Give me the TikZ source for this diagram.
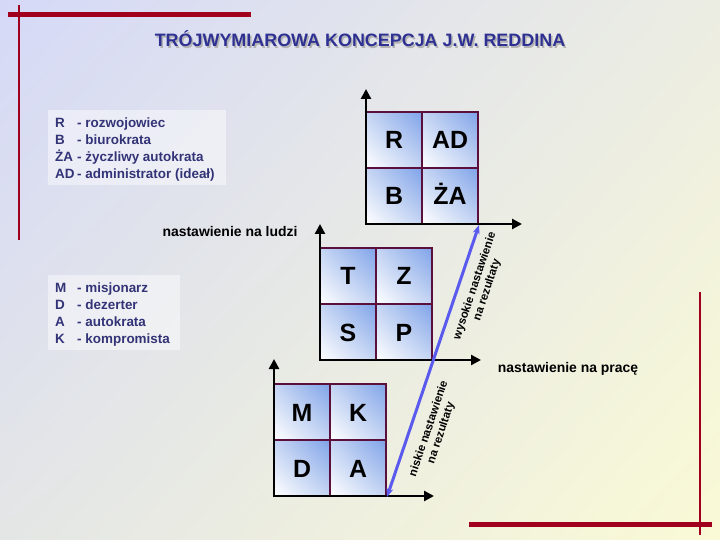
\documentclass[tikz,border=0pt]{standalone}
\usepackage{fontspec}
\setmainfont{Liberation Sans}
\usetikzlibrary{arrows.meta,shadings}
\definecolor{bgTL}{HTML}{D5D9F7}
\definecolor{bgTR}{HTML}{ECEDE2}
\definecolor{bgBL}{HTML}{E4E6E6}
\definecolor{bgBR}{HTML}{FAFAD6}
\definecolor{cellblue}{HTML}{7FA3E8}
\definecolor{cellmid}{HTML}{C4D4F3}
\definecolor{cellborder}{HTML}{5A0F3C}
\definecolor{redline}{HTML}{A0001E}
\definecolor{titleblue}{HTML}{2E3192}
\definecolor{legendblue}{HTML}{333377}
\definecolor{arrowblue}{HTML}{5A5AEE}
\tikzset{
  cell/.style={draw=cellborder, line width=2bp, minimum size=56bp, inner sep=0pt,
    text height=18bp, text depth=0pt, font=\fontsize{25}{25}\selectfont\bfseries,
    shade, lower left=white, upper right=cellblue, upper left=cellmid, lower right=cellmid},
  axis/.style={line width=2.8bp, {Triangle[length=10bp,width=10bp]}-{Triangle[length=10bp,width=10bp]}},
  bluearrow/.style={arrowblue, line width=3bp, -{Stealth[length=9bp,width=7bp]}},
  legend/.style={anchor=base west, inner sep=0pt, text=legendblue, font=\fontsize{13.5}{17}\selectfont\bfseries},
  axislabel/.style={inner sep=0pt, font=\fontsize{14}{17}\selectfont\bfseries},
  rotlabel/.style={rotate=71.5, align=center, inner sep=0pt, font=\fontsize{11.5}{13}\selectfont\bfseries},
  legendbox/.style={fill=white, fill opacity=0.45},
}
\newcommand{\lgitem}[2]{\makebox[22bp][l]{#1}- #2}
\begin{document}
\begin{tikzpicture}[x=1bp,y=-1bp]
\useasboundingbox (0,0) rectangle (720,540);
\shade[upper left=bgTL, upper right=bgTR, lower left=bgBL, lower right=bgBR] (0,0) rectangle (720,540);
% decorations
\fill[redline] (8,12) rectangle (251,17);
\draw[redline, line width=1.2bp] (19,5) -- (19,240);
\fill[redline] (469,522) rectangle (712,527);
\draw[redline, line width=1.2bp] (700,292) -- (700,535);
% title
\node[text=gray!60, anchor=base, inner sep=0pt, font=\fontsize{18}{20}\selectfont\bfseries] (titleshadow) at (361.5,48.5) {TRÓJWYMIAROWA KONCEPCJA J.W. REDDINA};
\node[text=titleblue, anchor=base, inner sep=0pt, font=\fontsize{18}{20}\selectfont\bfseries] (title) at (360,47) {TRÓJWYMIAROWA KONCEPCJA J.W. REDDINA};
% legend boxes
\fill[legendbox] (48,110) rectangle (226,185);
\fill[legendbox] (48,275) rectangle (180,350);
\node[legend] (lr) at (55,128) {\lgitem{R}{rozwojowiec}};
\node[legend] (lb) at (55,145) {\lgitem{B}{biurokrata}};
\node[legend] (lza) at (55,162) {\lgitem{ŻA}{życzliwy autokrata}};
\node[legend] (lad) at (55,179) {\lgitem{AD}{administrator (ideał)}};
\node[legend] (lm) at (55,292) {\lgitem{M}{misjonarz}};
\node[legend] (ld) at (55,309) {\lgitem{D}{dezerter}};
\node[legend] (la) at (55,326) {\lgitem{A}{autokrata}};
\node[legend] (lk) at (55,343) {\lgitem{K}{kompromista}};
% grid 1
\node[cell] (R) at (394,140) {R};
\node[cell] (AD) at (450,140) {AD};
\node[cell] (B) at (394,196) {B};
\node[cell] (ZA) at (450,196) {ŻA};
\coordinate (o1) at (366,224);
\coordinate (y1) at (366,89);
\coordinate (x1) at (522,224);
\draw[axis] (y1) -- (o1) -- (x1);
% grid 2
\node[cell] (T) at (348,276) {T};
\node[cell] (Z) at (404,276) {Z};
\node[cell] (S) at (348,332) {S};
\node[cell] (P) at (404,332) {P};
\coordinate (o2) at (320,360);
\coordinate (y2) at (320,224);
\coordinate (x2) at (481,360);
\draw[axis] (y2) -- (o2) -- (x2);
% grid 3
\node[cell] (M) at (302,412) {M};
\node[cell] (K) at (358,412) {K};
\node[cell] (D) at (302,468) {D};
\node[cell] (A) at (358,468) {A};
\coordinate (o3) at (274,496);
\coordinate (y3) at (274,359);
\coordinate (x3) at (434,496);
\draw[axis] (y3) -- (o3) -- (x3);
% blue arrows
\draw[bluearrow] (P.south east) -- (ZA.south east);
\draw[bluearrow] (P.south east) -- (A.south east);
% labels
\node[axislabel] (ludzi) at (230,232) {nastawienie na ludzi};
\node[axislabel, anchor=base] (prace) at (568,372) {nastawienie na pracę};
\node[rotlabel] (hi) at (481,288) {wysokie nastawienie\\na rezultaty};
\node[rotlabel] (lo) at (435,431) {niskie nastawienie\\na rezultaty};
\end{tikzpicture}
\end{document}
